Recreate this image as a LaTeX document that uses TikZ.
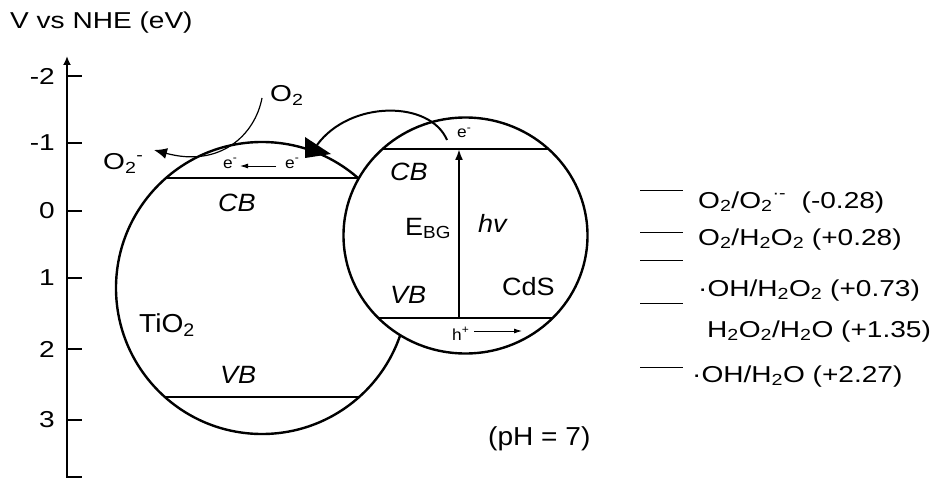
\documentclass[tikz,border=0pt]{standalone}
\usepackage{fontspec}
\setmainfont{Liberation Sans}[FakeStretch=1.08]
\newfontfamily\widefont{Liberation Sans}[FakeStretch=1.22]
\usetikzlibrary{arrows.meta}
\begin{document}
\begin{tikzpicture}[x=1pt,y=-1pt,
  wlbl/.style={font=\widefont\fontsize{23}{27}\selectfont, inner sep=0pt},
  mlbl/.style={font=\fontsize{25}{29}\selectfont, inner sep=0pt},
  ilbl/.style={font=\fontsize{25}{29}\selectfont\itshape, inner sep=0pt},
  slbl/.style={font=\fontsize{16}{19}\selectfont, inner sep=0pt},
  circ/.style={line width=2.4pt},
  band/.style={line width=2pt},
  thinline/.style={line width=0.9pt},
  tickline/.style={line width=2pt}]
\useasboundingbox (0,0) rectangle (941,481);

% axis
\node[wlbl, anchor=base west] (title) at (10,29) {V vs NHE (eV)};
\coordinate (atop) at (67,56);
\coordinate (abot) at (67,477);
\coordinate (abotr) at (82,477);
\draw[tickline, {Latex[length=9pt,width=8pt]}-] (atop) -- (abot) -- (abotr);
\foreach \i/\v/\y in {1/-2/76,2/-1/143,3/0/211,4/1/278,5/2/349,6/3/420}{
  \coordinate (tl\i) at (67,\y);
  \coordinate (tr\i) at (82,\y);
  \draw[tickline] (tl\i) -- (tr\i);
  \node[wlbl, anchor=east] (tn\i) at (55,\y) {\v};
}

% TiO2 particle
\coordinate (tioc) at (262,288);
\draw[circ, fill=white] (tioc) circle[radius=146];
\coordinate (tcbl) at (166,178); \coordinate (tcbr) at (358,178);
\coordinate (tvbl) at (165,397); \coordinate (tvbr) at (359,397);
\draw[band] (tcbl) -- (tcbr);
\draw[band] (tvbl) -- (tvbr);

% CdS particle
\coordinate (cdsc) at (465.5,235.5);
\draw[circ, fill=white] (cdsc) ellipse[x radius=122, y radius=118];
\begin{scope}
  \clip (cdsc) ellipse[x radius=122, y radius=118];
  \coordinate (ccbl) at (330,149); \coordinate (ccbr) at (600,149);
  \coordinate (cvbl) at (330,318); \coordinate (cvbr) at (600,318);
  \draw[band] (ccbl) -- (ccbr);
  \draw[band] (cvbl) -- (cvbr);
\end{scope}

% excitation arrow
\coordinate (exb) at (459,318);
\coordinate (ext) at (459,149);
\draw[band, -{Latex[length=11pt,width=8pt]}] (exb) -- (ext);

% labels inside particles
\node[ilbl, anchor=base west] (tcb) at (218,211) {CB};
\node[ilbl, anchor=base west] (tvb) at (220,383) {VB};
\node[mlbl, anchor=base west, font=\fontsize{26}{30}\selectfont] (ttio) at (139,332) {TiO\textsubscript{2}};
\node[ilbl, anchor=base west] (ccb) at (390,180) {CB};
\node[ilbl, anchor=base west] (cvb) at (390,303) {VB};
\node[mlbl, anchor=base west] (ebg) at (405,235) {E\textsubscript{BG}};
\node[ilbl, anchor=base west] (hv) at (478,232) {hv};
\node[mlbl, anchor=base west] (cds) at (502,295) {CdS};

% electrons and holes
\node[slbl, anchor=base west] (ecds) at (457,138) {e\textsuperscript{-}};
\node[slbl, anchor=base west] (hcds) at (452,340) {h\textsuperscript{+}};
\coordinate (hs) at (474,331); \coordinate (he) at (522,331);
\draw[thinline, -{Latex[length=8pt,width=5pt]}] (hs) -- (he);
\node[slbl, anchor=base west] (et1) at (223,168) {e\textsuperscript{-}};
\node[slbl, anchor=base west] (et2) at (285,168) {e\textsuperscript{-}};
\coordinate (es) at (276,166); \coordinate (ee) at (240,166);
\draw[thinline, -{Latex[length=8pt,width=5pt]}] (es) -- (ee);

% electron transfer CdS -> TiO2
\coordinate (trs) at (447,140);
\coordinate (tre) at (317,145);
\draw[band] (trs) .. controls (430,100) and (350,100) .. (tre);
\coordinate (tri1) at (305,137); \coordinate (tri2) at (305,158); \coordinate (tri3) at (331,154);
\fill (tri1) -- (tri2) -- (tri3) -- cycle;

% O2 reduction
\node[mlbl, anchor=base west, font=\widefont\fontsize{23}{27}\selectfont] (o2) at (270,102) {O\textsubscript{2}};
\node[mlbl, anchor=base west, font=\widefont\fontsize{23}{27}\selectfont] (o2m) at (103,170) {O\textsubscript{2}\textsuperscript{-}};
\coordinate (o2s) at (262,98);
\coordinate (o2e) at (154,150);
\draw[line width=1.2pt, -{Latex[length=13pt,width=11pt]}] (o2s) .. controls (255,135) and (220,168) .. (o2e);

% redox levels
\foreach \i/\y in {1/190,2/232,3/260,4/303,5/367}{
  \coordinate (ll\i) at (640,\y);
  \coordinate (lr\i) at (683,\y);
  \draw[thinline] (ll\i) -- (lr\i);
}
\node[wlbl, anchor=base west] (r1) at (698,208) {O\textsubscript{2}/O\textsubscript{2}\textsuperscript{·-}\ \ (-0.28)};
\node[wlbl, anchor=base west] (r2) at (698,245) {O\textsubscript{2}/H\textsubscript{2}O\textsubscript{2} (+0.28)};
\node[wlbl, anchor=base west] (r3) at (698,296) {·OH/H\textsubscript{2}O\textsubscript{2} (+0.73)};
\node[wlbl, anchor=base west] (r4) at (707,337) {H\textsubscript{2}O\textsubscript{2}/H\textsubscript{2}O (+1.35)};
\node[wlbl, anchor=base west] (r5) at (692,382) {·OH/H\textsubscript{2}O (+2.27)};

\node[mlbl, anchor=base west, font=\fontsize{26}{30}\selectfont] (ph) at (488,445) {(pH = 7)};
\end{tikzpicture}
\end{document}
